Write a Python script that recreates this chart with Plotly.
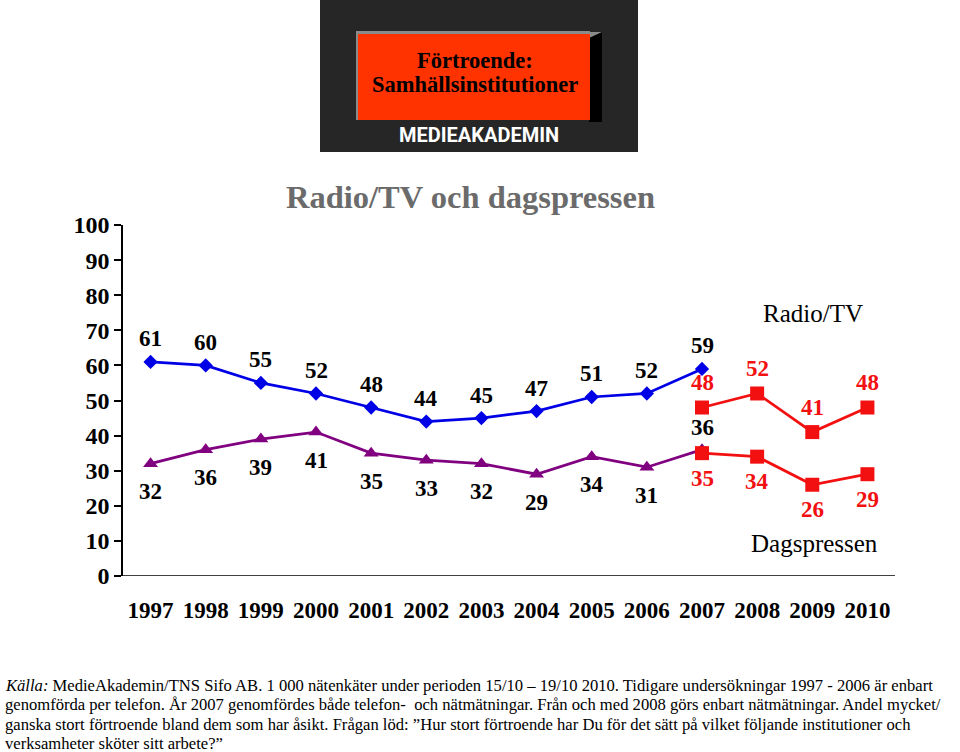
import plotly.graph_objects as go

# ---------------- data ----------------
years = ["1997", "1998", "1999", "2000", "2001", "2002", "2003",
         "2004", "2005", "2006", "2007", "2008", "2009", "2010"]
phone_years = years[:11]          # 1997-2007 (telephone surveys)
web_years = years[10:]            # 2007-2010 (web surveys)
radio_tv_phone = [61, 60, 55, 52, 48, 44, 45, 47, 51, 52, 59]
dagspressen_phone = [32, 36, 39, 41, 35, 33, 32, 29, 34, 31, 36]
radio_tv_web = [48, 52, 41, 48]
dagspressen_web = [35, 34, 26, 29]
y_ticks = [0, 10, 20, 30, 40, 50, 60, 70, 80, 90, 100]

title_text = "Radio/TV och dagspressen"
logo_line1 = "Förtroende:"
logo_line2 = "Samhällsinstitutioner"
logo_brand = "MEDIEAKADEMIN"
source_lines = [
    "<i>Källa:</i> MedieAkademin/TNS Sifo AB. 1 000 nätenkäter under perioden 15/10 – 19/10 2010. "
    "Tidigare undersökningar 1997 - 2006 är enbart",
    "genomförda per telefon. År 2007 genomfördes både telefon-  och nätmätningar. "
    "Från och med 2008 görs enbart nätmätningar. Andel mycket/",
    "ganska stort förtroende bland dem som har åsikt. Frågan löd: ”Hur stort förtroende har Du "
    "för det sätt på vilket följande institutioner och",
    "verksamheter sköter sitt arbete?”",
]

# ---------------- layout geometry ----------------
W, H = 960, 752
L, R, T, B = 123, 65, 225, 176
PW, PH = W - L - R, H - T - B


def px(x):
    return (x - L) / PW


def py(y):
    return (H - B - y) / PH


SERIF = "Liberation Serif, Times New Roman, serif"
BLUE = "#0000e6"
PURPLE = "#800080"
RED = "#f21010"

fig = go.Figure()

fig.add_trace(go.Scatter(x=phone_years, y=radio_tv_phone, mode="lines+markers",
                         line=dict(color=BLUE, width=2.75),
                         marker=dict(symbol="diamond", size=11, color=BLUE),
                         showlegend=False, hoverinfo="x+y"))
fig.add_trace(go.Scatter(x=phone_years, y=dagspressen_phone, mode="lines+markers",
                         line=dict(color=PURPLE, width=2.75),
                         marker=dict(symbol="triangle-up", size=13, color=PURPLE),
                         showlegend=False, hoverinfo="x+y"))
fig.add_trace(go.Scatter(x=web_years, y=radio_tv_web, mode="lines+markers",
                         line=dict(color=RED, width=2.75),
                         marker=dict(symbol="square", size=14, color=RED),
                         showlegend=False, hoverinfo="x+y"))
fig.add_trace(go.Scatter(x=web_years, y=dagspressen_web, mode="lines+markers",
                         line=dict(color=RED, width=2.75),
                         marker=dict(symbol="square", size=14, color=RED),
                         showlegend=False, hoverinfo="x+y"))

annotations = []


def add_labels(xs, ys, shift, color, last_shift=None):
    for i, (x, y) in enumerate(zip(xs, ys)):
        s = shift
        if last_shift is not None and i == len(xs) - 1:
            s = last_shift
        annotations.append(dict(x=years.index(x), y=y, xref="x", yref="y",
                                text=f"<b>{y}</b>", showarrow=False, yshift=s,
                                xanchor="center", yanchor="middle",
                                font=dict(family=SERIF, size=23, color=color)))


add_labels(phone_years, radio_tv_phone, 23, "black")
add_labels(phone_years, dagspressen_phone, -28, "black", last_shift=22)
add_labels(web_years, radio_tv_web, 25, RED)
add_labels(web_years, dagspressen_web, -25, RED)


def paper_text(x, y, text, size, color, family=SERIF, xanchor="center"):
    annotations.append(dict(x=px(x), y=py(y), xref="paper", yref="paper", text=text,
                            showarrow=False, xanchor=xanchor, yanchor="middle",
                            font=dict(family=family, size=size, color=color)))


# series names
paper_text(813, 313, "Radio/TV", 25, "black")
paper_text(814, 543, "Dagspressen", 25, "black")

# title
paper_text(470, 197, f"<b>{title_text}</b>", 32.5, "#6b6b6b")

# logo texts
paper_text(475, 61, f"<b>{logo_line1}</b>", 22.5, "black")
paper_text(475, 84, f"<b>{logo_line2}</b>", 22.5, "black")
paper_text(479, 135, f"<b>{logo_brand}</b>", 20, "white",
           family="Roboto, Liberation Sans, sans-serif")

# footnote, one annotation per line
for k, line in enumerate(source_lines):
    paper_text(3, 685 + 19.6 * k, line, 16.6, "black", xanchor="left")

shapes = []


def rect(x0, y0, x1, y1, color):
    shapes.append(dict(type="rect", xref="paper", yref="paper", x0=px(x0), x1=px(x1),
                       y0=py(y1), y1=py(y0), fillcolor=color, line=dict(width=0), layer="above"))


def poly(points, color):
    path = "M " + " L ".join(f"{px(a)},{py(b)}" for a, b in points) + " Z"
    shapes.append(dict(type="path", xref="paper", yref="paper", path=path,
                       fillcolor=color, line=dict(width=0), layer="above"))


rect(320, 0, 638, 152, "#262626")
rect(589, 32, 602, 122, "black")
poly([(589, 32), (602, 32), (589, 38)], "#8a8a8a")
rect(356, 31, 590, 120, "#8a8a8a")
rect(358, 34, 590, 120, "#ff3300")

# x axis baseline
shapes.append(dict(type="line", xref="paper", yref="y", x0=0, x1=1, y0=0, y1=0,
                   line=dict(color="black", width=1.5)))

fig.update_layout(
    width=W, height=H,
    margin=dict(l=L, r=R, t=T, b=B),
    paper_bgcolor="white", plot_bgcolor="white",
    annotations=annotations, shapes=shapes,
    xaxis=dict(type="category", categoryorder="array", categoryarray=years,
               range=[-0.5, len(years) - 0.5], showgrid=False, zeroline=False,
               showline=False, ticks="", ticklabelstandoff=18,
               tickvals=years, ticktext=[f"<b>{y}</b>" for y in years],
               tickfont=dict(family=SERIF, size=23, color="black")),
    yaxis=dict(range=[0, 100], tickvals=y_ticks, ticktext=[f"<b>{v}</b>" for v in y_ticks],
               showgrid=False, zeroline=False, showline=True, linecolor="black", linewidth=1.5,
               ticks="outside", ticklen=7, tickcolor="black", tickwidth=1.5,
               tickfont=dict(family=SERIF, size=24, color="black")),
)

fig.write_html("out.html", post_script="document.body.style.margin='0';",
               config={"displayModeBar": False})
